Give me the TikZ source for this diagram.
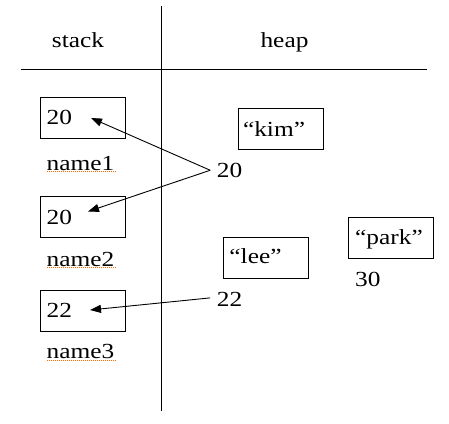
\documentclass[tikz,border=0pt]{standalone}
\usepackage{fontspec}
\setmainfont{Liberation Serif}[FakeStretch=1.18]
\usetikzlibrary{arrows.meta}
\tikzset{
  txt/.style={inner sep=0pt, anchor=base west, font=\fontsize{21.5}{26}\selectfont},
  ctxt/.style={inner sep=0pt, anchor=base, font=\fontsize{21.5}{26}\selectfont},
  cell/.style={draw, line width=0.9pt, minimum width=85pt, minimum height=41pt, inner sep=0pt},
  rule/.style={line width=0.9pt},
  ptr/.style={line width=0.9pt, -{Triangle[length=11pt,width=8pt]}},
  spell/.style={draw=orange!85!red, line width=0.9pt, dash pattern=on 1pt off 1pt}
}
\begin{document}
\begin{tikzpicture}[x=1pt,y=-1pt]
\useasboundingbox (0,0) rectangle (449,423);
% dividers
\coordinate (vtop) at (161.5,6);
\coordinate (vbot) at (161.5,411);
\coordinate (hl) at (20.5,69.3);
\coordinate (hr) at (427,69.3);
\draw[rule] (vtop) -- (vbot);
\draw[rule] (hl) -- (hr);
% headers
\node[ctxt] (stack) at (78,47.7) {stack};
\node[ctxt] (heap) at (284.5,47.7) {heap};
% stack cells
\node[cell] (b1) at (82.75,117.5) {};
\node[cell] (b2) at (82.75,217) {};
\node[cell] (b3) at (82.75,311) {};
\node[txt] (v1) at (46.5,124.3) {20};
\node[txt] (v2) at (46.5,224) {20};
\node[txt] (v3) at (46.5,317.7) {22};
\node[txt] (name1) at (46.5,170) {name1};
\node[txt] (name2) at (46.5,266) {name2};
\node[txt] (name3) at (46.5,358.5) {name3};
\draw[spell] ([yshift=-1.5pt]name1.base west) -- ([yshift=-1.5pt]name1.base east);
\draw[spell] ([yshift=-1.5pt]name2.base west) -- ([yshift=-1.5pt]name2.base east);
\draw[spell] ([yshift=-1.5pt]name3.base west) -- ([yshift=-1.5pt]name3.base east);
% heap objects
\node[cell] (kim) at (280.5,128.5) {};
\node[cell] (lee) at (265.5,257.5) {};
\node[cell] (park) at (390.5,237.5) {};
\node[ctxt] (kimt) at (274,136) {“kim”};
\node[ctxt] (leet) at (255.5,263) {“lee”};
\node[ctxt] (parkt) at (389,244.5) {“park”};
\node[txt] (n30) at (355,286) {30};
% addresses
\node[txt] (n20) at (216.7,177.3) {20};
\node[txt] (n22) at (216.7,306) {22};
\coordinate (t1) at (91,118);
\coordinate (t2) at (88,211.5);
\coordinate (t3) at (90,310);
\draw[ptr] ([xshift=-6.5pt]n20.west) -- (t1);
\draw[ptr] ([xshift=-6.5pt]n20.west) -- (t2);
\draw[ptr] ([xshift=-6.5pt,yshift=1pt]n22.west) -- (t3);
\end{tikzpicture}
\end{document}
